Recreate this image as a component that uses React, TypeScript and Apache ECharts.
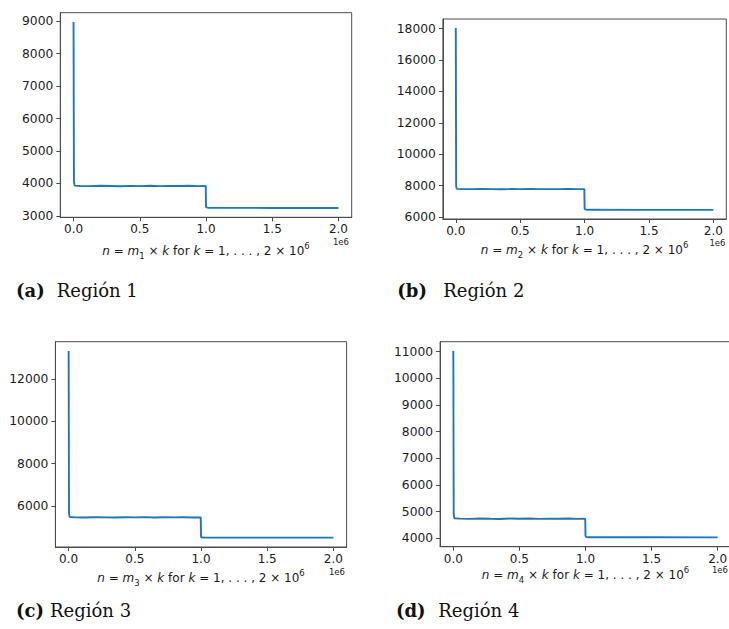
import React, { useEffect, useRef } from "react";
import * as echarts from "echarts";

// n = m_i * k positions (k up to 2e6)
const kValues = [0, 3000, 8000, 50000, 120000, 200000, 280000, 350000, 430000, 500000, 580000, 650000, 720000, 800000, 870000, 940000, 998000, 1000000, 1003000, 1020000, 1500000, 2000000];

const region1 = [8970, 4050, 3935, 3925, 3918, 3930, 3922, 3915, 3928, 3920, 3932, 3918, 3926, 3921, 3930, 3919, 3925, 3300, 3265, 3250, 3248, 3246];
const region2 = [18030, 7950, 7790, 7775, 7770, 7780, 7772, 7768, 7776, 7770, 7781, 7769, 7774, 7771, 7778, 7770, 7775, 6560, 6490, 6455, 6450, 6448];
const region3 = [13330, 5650, 5480, 5462, 5455, 5468, 5458, 5452, 5466, 5460, 5470, 5455, 5463, 5459, 5467, 5456, 5462, 4560, 4520, 4505, 4502, 4500];
const region4 = [11020, 4900, 4745, 4732, 4725, 4738, 4728, 4722, 4736, 4730, 4740, 4725, 4733, 4729, 4737, 4726, 4732, 4090, 4050, 4035, 4033, 4030];

const xTicks = [0, 500000, 1000000, 1500000, 2000000];
const yTicks1 = [3000, 4000, 5000, 6000, 7000, 8000, 9000];
const yTicks2 = [6000, 8000, 10000, 12000, 14000, 16000, 18000];
const yTicks3 = [6000, 8000, 10000, 12000];
const yTicks4 = [4000, 5000, 6000, 7000, 8000, 9000, 10000, 11000];

const captionTags = ["(a)", "(b)", "(c)", "(d)"];
const captionNames = ["Región 1", "Región 2", "Región 3", "Región 4"];
const regionIndex = ["1", "2", "3", "4"];

const SANS = "DejaVu Sans";
const SERIF = "DejaVu Serif";
const SPINE = "#4a4a4a";
const TEXT = "#1a1a1a";

const panels = [
  { data: region1, yTicks: yTicks1, grid: { left: 60.3, top: 12.7, width: 291.4, height: 204.6 }, nameGap: 24, offset: { x: 349, y: 242 }, cap: { x: 16, x2: 56.7, y: 290.5 } },
  { data: region2, yTicks: yTicks2, grid: { left: 442.9, top: 19, width: 283.4, height: 200 }, nameGap: 21, offset: { x: 725.5, y: 243 }, cap: { x: 397.3, x2: 443.3, y: 290.5 } },
  { data: region3, yTicks: yTicks3, grid: { left: 55.4, top: 341.7, width: 291.2, height: 205.3 }, nameGap: 21, offset: { x: 345, y: 572 }, cap: { x: 16, x2: 50, y: 610 } },
  { data: region4, yTicks: yTicks4, grid: { left: 440.1, top: 341.7, width: 290.8, height: 205 }, nameGap: 13, offset: { x: 728, y: 570 }, cap: { x: 396, x2: 438.3, y: 610.5 } },
];

const pad = (e: { min: number; max: number }, lo: boolean) => {
  const r = e.max - e.min;
  return lo ? e.min - 0.05 * r : e.max + 0.05 * r;
};

export default function App() {
  const ref = useRef<HTMLDivElement>(null);
  useEffect(() => {
    if (!ref.current) return;
    const chart = echarts.init(ref.current, null, { renderer: "svg" });
    const grids: any[] = [];
    const xAxes: any[] = [];
    const yAxes: any[] = [];
    const series: any[] = [];
    const graphics: any[] = [];
    panels.forEach((p, i) => {
      grids.push({
        ...p.grid,
        show: true,
        borderColor: SPINE,
        borderWidth: 1,
        backgroundColor: "transparent",
        containLabel: false,
        outerBoundsMode: "none",
      });
      xAxes.push({
        type: "value",
        gridIndex: i,
        min: (e: any) => pad(e, true),
        max: (e: any) => pad(e, false),
        splitLine: { show: false },
        axisLine: { show: true, onZero: false, lineStyle: { color: SPINE, width: 1 } },
        axisTick: { show: true, inside: false, length: 4, customValues: xTicks, lineStyle: { color: SPINE } },
        axisLabel: {
          customValues: xTicks,
          formatter: (v: number) => (v / 1e6).toFixed(1),
          fontFamily: SANS,
          fontSize: 12,
          color: TEXT,
          margin: 6,
        },
        name: `{i|n} = {i|m}{sub|${regionIndex[i]}} × {i|k} for {i|k} = 1, . . . , 2 × 10{sup|6}`,
        nameLocation: "middle",
        nameGap: p.nameGap,
        nameTextStyle: {
          fontFamily: SANS,
          fontSize: 12,
          color: TEXT,
          rich: {
            i: { fontFamily: SANS, fontSize: 12, fontStyle: "italic", color: TEXT },
            sub: { fontFamily: SANS, fontSize: 8.5, color: TEXT, lineHeight: 19, verticalAlign: "bottom" },
            sup: { fontFamily: SANS, fontSize: 8.5, color: TEXT, lineHeight: 19, verticalAlign: "top" },
          },
        },
      });
      yAxes.push({
        type: "value",
        gridIndex: i,
        min: (e: any) => pad(e, true),
        max: (e: any) => pad(e, false),
        splitLine: { show: false },
        axisLine: { show: true, onZero: false, lineStyle: { color: SPINE, width: 1 } },
        axisTick: { show: true, inside: false, length: 4, customValues: p.yTicks, lineStyle: { color: SPINE } },
        axisLabel: {
          customValues: p.yTicks,
          formatter: (v: number) => String(Math.round(v)),
          fontFamily: SANS,
          fontSize: 12.3,
          color: TEXT,
          margin: 7,
        },
      });
      series.push({
        type: "line",
        xAxisIndex: i,
        yAxisIndex: i,
        data: kValues.map((k, j) => [k, p.data[j]]),
        showSymbol: false,
        symbol: "none",
        lineStyle: { color: "#1f77b4", width: 1.9 },
        silent: true,
      });
      graphics.push({
        type: "text",
        x: p.offset.x,
        y: p.offset.y,
        style: { text: "1e6", fontFamily: SANS, fontSize: 8.5, fill: TEXT, align: "right", verticalAlign: "middle" },
      });
      graphics.push({
        type: "text",
        x: p.cap.x,
        y: p.cap.y,
        style: { text: captionTags[i], fontFamily: SERIF, fontSize: 18, fontWeight: "bold", fill: "#111", align: "left", verticalAlign: "middle" },
      });
      graphics.push({
        type: "text",
        x: p.cap.x2,
        y: p.cap.y,
        style: { text: captionNames[i], fontFamily: SERIF, fontSize: 18, fill: "#111", align: "left", verticalAlign: "middle" },
      });
    });
    chart.setOption({
      animation: false,
      backgroundColor: "#ffffff",
      grid: grids,
      xAxis: xAxes,
      yAxis: yAxes,
      series,
      graphic: graphics,
    });
    return () => chart.dispose();
  }, []);
  return (
    <div
      ref={ref}
      style={{ position: "absolute", left: 0, top: 0, width: 729, height: 629 }}
    />
  );
}
